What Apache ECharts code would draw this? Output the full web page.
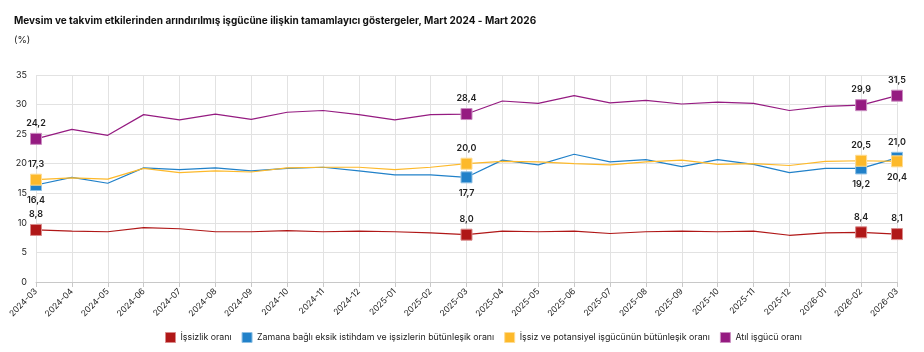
<!DOCTYPE html>
<html>
<head>
<meta charset="utf-8">
<script src="https://cdn.jsdelivr.net/npm/echarts@6/dist/echarts.min.js"></script>
<style>
    html, body { margin: 0; padding: 0; background: #fff; }
    #chart { width: 924px; height: 352px; }
</style>
</head>
<body>
<div id="chart"></div>
<script>
// aylar
const months = [
    '2024-03', '2024-04', '2024-05', '2024-06', '2024-07', '2024-08', '2024-09', '2024-10',
    '2024-11', '2024-12', '2025-01', '2025-02', '2025-03', '2025-04', '2025-05', '2025-06',
    '2025-07', '2025-08', '2025-09', '2025-10', '2025-11', '2025-12', '2026-01', '2026-02', '2026-03'
];
const issizlik = [8.8, 8.6, 8.5, 9.2, 9.0, 8.5, 8.5, 8.7, 8.5, 8.6, 8.5, 8.3, 8.0, 8.6, 8.5, 8.6, 8.2, 8.5, 8.6, 8.5, 8.6, 7.9, 8.3, 8.4, 8.1];
const zamanaBagli = [16.4, 17.7, 16.7, 19.3, 19.0, 19.3, 18.8, 19.2, 19.4, 18.8, 18.1, 18.1, 17.7, 20.6, 19.8, 21.6, 20.3, 20.7, 19.5, 20.7, 19.9, 18.5, 19.2, 19.2, 21.0];
const potansiyel = [17.3, 17.6, 17.4, 19.2, 18.5, 18.8, 18.6, 19.3, 19.4, 19.4, 19.0, 19.4, 20.0, 20.4, 20.3, 20.0, 19.8, 20.3, 20.6, 19.9, 20.0, 19.7, 20.4, 20.5, 20.4];
const atil = [24.2, 25.8, 24.8, 28.3, 27.4, 28.4, 27.5, 28.7, 29.0, 28.3, 27.4, 28.3, 28.4, 30.6, 30.2, 31.5, 30.3, 30.7, 30.1, 30.4, 30.2, 29.0, 29.7, 29.9, 31.5];
const seriesNames = [
    'İşsizlik oranı',
    'Zamana bağlı eksik istihdam ve işsizlerin bütünleşik oranı',
    'İşsiz ve potansiyel işgücünün bütünleşik oranı',
    'Atıl işgücü oranı'
];
// işaretli noktalar
const markIdx = [0, 12, 23, 24];

const colors = ['#B01717', '#2181C9', '#FDB92A', '#951B81'];
const borders = ['#d98a8a', '#8fc0e4', '#fedc94', '#ca8dc0'];

const fmt = (v) => v.toFixed(1).replace('.', ',');

// etiket konumu: mavi alt, sarı son noktada alt
const labelPos = (s, i) => {
    if (s === 1 && i !== 24) return 'bottom';
    if (s === 2 && i === 24) return 'bottom';
    return 'top';
};

const buildData = (arr, s) => arr.map((v, i) => {
    if (markIdx.indexOf(i) < 0) return { value: v, symbol: 'none' };
    return {
        value: v,
        symbol: 'rect',
        symbolSize: 11,
        itemStyle: { color: colors[s], borderColor: borders[s], borderWidth: 1 },
        label: {
            show: true,
            position: labelPos(s, i),
            distance: 5,
            formatter: () => fmt(v),
            color: '#222',
            fontSize: 9,
            fontWeight: 600,
            fontFamily: 'Inter'
        }
    };
});

const allData = [issizlik, zamanaBagli, potansiyel, atil];

let myChart = echarts.init(document.getElementById('chart'));
let option = {
    animation: false,
    title: [
        {
            text: 'Mevsim ve takvim etkilerinden arındırılmış işgücüne ilişkin tamamlayıcı göstergeler, Mart 2024 - Mart 2026',
            left: 9,
            top: 11,
            textStyle: { fontSize: 10, fontWeight: 'bold', color: '#111', fontFamily: 'Inter' }
        },
        {
            text: '(%)',
            left: 9,
            top: 30,
            textStyle: { fontSize: 9.5, fontWeight: 'normal', color: '#222', fontFamily: 'Inter' }
        }
    ],
    legend: {
        left: 160,
        top: 327,
        icon: 'rect',
        itemWidth: 10,
        itemHeight: 10,
        itemGap: 10,
        textStyle: { fontSize: 8.8, color: '#222', fontFamily: 'Inter' },
        data: seriesNames.map((n, i) => ({
            name: n,
            itemStyle: { color: colors[i], borderColor: borders[i], borderWidth: 1 }
        }))
    },
    grid: { left: 36, right: 27, top: 75, bottom: 70 },
    xAxis: {
        type: 'category',
        boundaryGap: false,
        data: months,
        axisLine: { lineStyle: { color: '#c8c8c8' } },
        axisTick: { show: true, alignWithLabel: true, lineStyle: { color: '#c8c8c8' } },
        splitLine: { show: true, lineStyle: { color: '#e2e2e2' } },
        axisLabel: { rotate: 45, fontSize: 8.5, color: '#222', interval: 0, margin: 8, fontFamily: 'Inter' }
    },
    yAxis: {
        type: 'value',
        min: 0,
        max: 35,
        interval: 5,
        axisLine: { show: false },
        axisTick: { show: false },
        splitLine: { lineStyle: { color: '#e2e2e2' } },
        axisLabel: { fontSize: 9, color: '#222', margin: 9, fontFamily: 'Inter' }
    },
    series: allData.map((arr, s) => ({
        name: seriesNames[s],
        type: 'line',
        showSymbol: true,
        symbol: 'none',
        color: colors[s],
        lineStyle: { width: 1.2, color: colors[s] },
        data: buildData(arr, s),
        z: 2 + s
    }))
};
myChart.setOption(option);
</script>
</body>
</html>
